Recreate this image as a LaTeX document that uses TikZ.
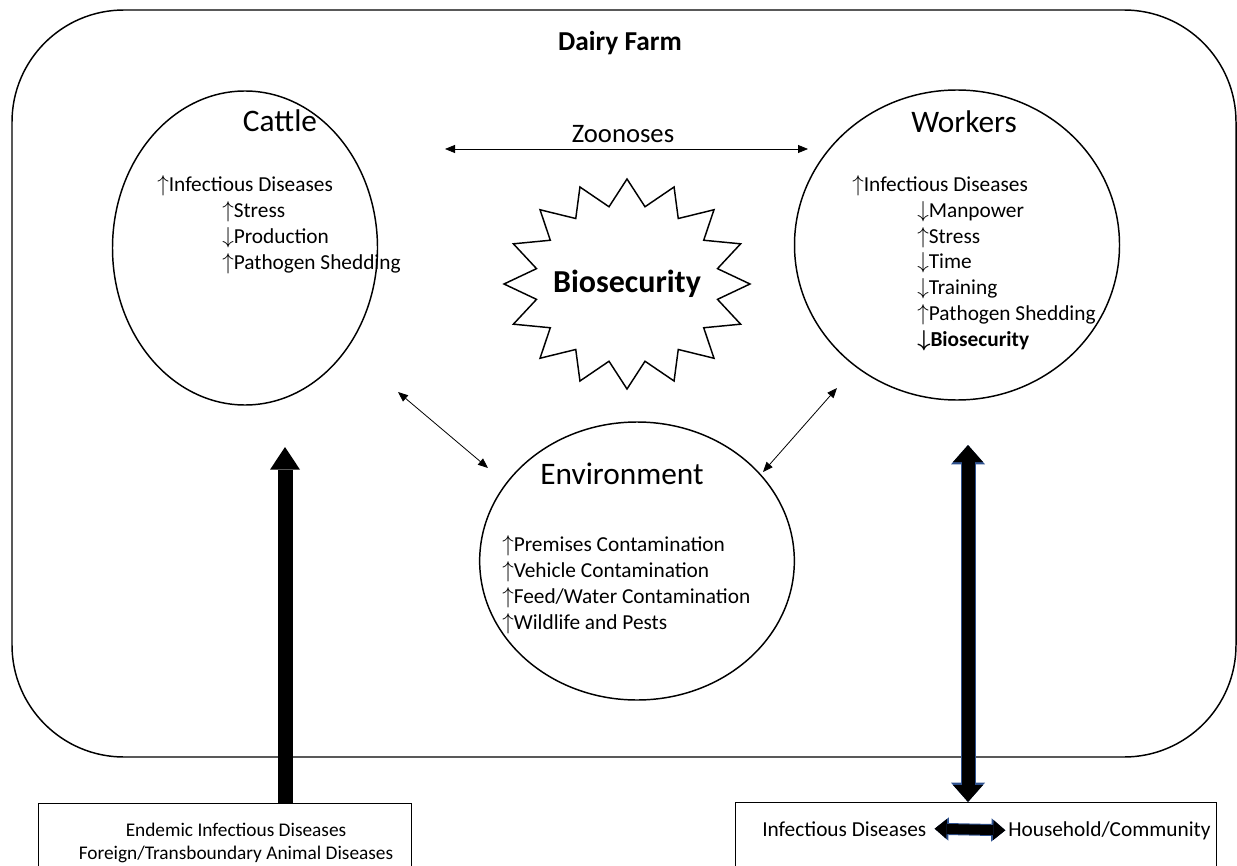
\documentclass[tikz,border=0pt]{standalone}
\usepackage{fontspec}
\setmainfont{Carlito}
\usepackage{tikz}
\usetikzlibrary{shapes.geometric, arrows.meta, positioning}
\definecolor{randblau}{RGB}{47,82,143}
\newcommand{\rauf}{$\uparrow$}
\newcommand{\runter}{$\downarrow$}

\begin{document}
\begin{tikzpicture}[x=0.75pt, y=-0.75pt,
		ring/.style={draw, ellipse, line width=1.1pt, inner sep=0pt, outer sep=0pt},
		kopf/.style={anchor=base, inner sep=0pt, font=\fontsize{23.5}{28}\selectfont},
		liste/.style={anchor=base west, align=left, inner sep=0pt, font=\fontsize{16}{19.3}\selectfont},
		kasten/.style={draw, line width=0.8pt, anchor=north west, inner sep=0pt, minimum height=75pt},
		link/.style={{Triangle[length=7.5pt,width=6pt]}-{Triangle[length=7.5pt,width=6pt]}, line width=0.6pt},
		dickpfeil/.style={line width=11.25pt, -{Triangle[width=22.5pt,length=17pt,line width=0pt]}},
		wrkpfeil/.style={line width=9.75pt, {Triangle[width=22.5pt,length=12.75pt,line width=0pt]}-{Triangle[width=22.5pt,length=12.75pt,line width=0pt]},
			preaction={draw=randblau, line width=11.25pt, {Triangle[width=25.5pt,length=14.5pt,line width=0pt]}-{Triangle[width=25.5pt,length=14.5pt,line width=0pt]}}},
		minipfeil/.style={line width=7.5pt, {Triangle[width=15pt,length=9pt,line width=0pt]}-{Triangle[width=15pt,length=9pt,line width=0pt]},
			preaction={draw=randblau, line width=9pt, {Triangle[width=17.5pt,length=10.5pt,line width=0pt]}-{Triangle[width=17.5pt,length=10.5pt,line width=0pt]}}}]
	\useasboundingbox (0,0) rectangle (1237,866);
	\clip (0,0) rectangle (1237,866);
	% Rahmen
	\draw[line width=1.1pt, rounded corners=84pt] (12,10) rectangle (1236,757);
	\node[anchor=base, inner sep=0pt, font=\fontsize{20.5}{24}\selectfont\bfseries] (farm) at (620,51) {Dairy Farm};
	% Kreise
	\node[ring, minimum width=198.75pt, minimum height=235.5pt] (cattle) at (245,248) {};
	\node[ring, minimum width=243.75pt, minimum height=232.5pt] (workers) at (957,245) {};
	\node[ring, minimum width=236pt, minimum height=208.5pt] (env) at (637,561) {};
	% Texte (Grundlinie = letzte Zeile)
	\node[kopf] (catHead) at (280,132) {Cattle};
	\node[kopf] (wrkHead) at (964,133) {Workers};
	\node[kopf] (envHead) at (622,484) {Environment};
	\node[liste] (catList) at (157,269) {\rauf Infectious Diseases\\
		\hspace*{48.75pt}\rauf Stress\\
		\hspace*{48.75pt}\runter Production\\
		\hspace*{48.75pt}\rauf Pathogen Shedding};
	\node[liste] (wrkList) at (852,346) {\rauf Infectious Diseases\\
		\hspace*{48.75pt}\runter Manpower\\
		\hspace*{48.75pt}\rauf Stress\\
		\hspace*{48.75pt}\runter Time\\
		\hspace*{48.75pt}\runter Training\\
		\hspace*{48.75pt}\rauf Pathogen Shedding\\
		\hspace*{48.75pt}{\bfseries\boldmath\runter Biosecurity}};
	\node[liste] (envList) at (502,629) {\rauf Premises Contamination\\
		\rauf Vehicle Contamination\\
		\rauf Feed/Water Contamination\\
		\rauf Wildlife and Pests};
	% Stern
	\node[inner sep=0pt, font=\fontsize{24}{28}\selectfont\bfseries] (bio) at (627,284) {Biosecurity};
	\draw[line width=1.1pt, line join=miter] ([shift={(0,-105)}]bio.center)
		\foreach \k [evaluate=\k as \r using {1-0.25*mod(\k,2)}] in {1,...,31}
		{ -- ([shift={({123*\r*cos(90+11.25*\k)},{-105*\r*sin(90+11.25*\k)})}]bio.center) } -- cycle;
	% Pfeile
	\node[anchor=base, inner sep=0pt, font=\fontsize{20}{24}\selectfont] (zoo) at (623,143) {Zoonoses};
	\coordinate (zA) at (445,149);
	\coordinate (zB) at (808,149);
	\coordinate (ceA) at (398,392);
	\coordinate (ceB) at (488,468);
	\coordinate (weA) at (837,388);
	\coordinate (weB) at (763,472);
	\draw[link] (zA) -- (zB);
	\draw[link] (ceA) -- (ceB);
	\draw[link] (weA) -- (weB);
	% Kaesten unten
	\node[kasten, minimum width=279.75pt] (endBox) at (38,803) {};
	\node[kasten, minimum width=360.75pt] (wrkBox) at (735,802) {};
	\node[anchor=base, align=center, inner sep=0pt, font=\fontsize{14.5}{17.25}\selectfont] (endTxt) at (236,859) {Endemic Infectious Diseases\\Foreign/Transboundary Animal Diseases};
	\node[liste] (infTxt) at (762,836) {Infectious Diseases};
	\node[liste] (hhTxt) at (1008,836) {Household/Community};
	\coordinate (catTip) at (285,447);
	\coordinate (wrkTip) at (968,445);
	\draw[dickpfeil] (endBox.north -| catTip) -- (catTip);
	\draw[wrkpfeil] (wrkTip) -- (wrkBox.north -| wrkTip);
	\draw[minipfeil] ([xshift=6pt]infTxt.east) -- ([xshift=-2pt]hhTxt.west);
\end{tikzpicture}
\end{document}
